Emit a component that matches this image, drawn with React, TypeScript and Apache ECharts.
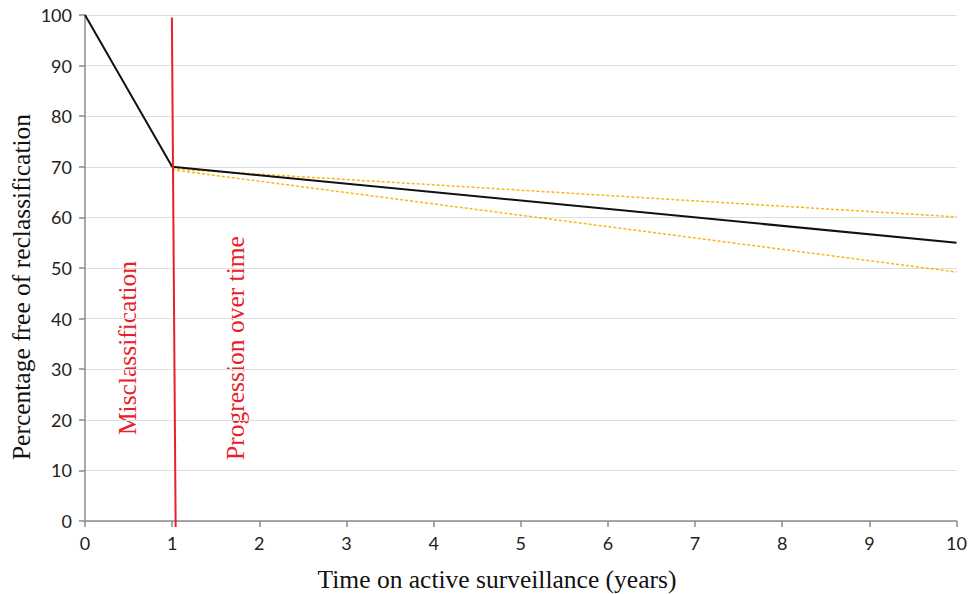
import React, { useEffect, useRef } from "react";
import * as echarts from "echarts";

// Years on active surveillance and the modelled percentages
const years = [0, 1, 10];
const freeOfReclassification = [100, 70, 55];
const upperBoundYears = [1, 10];
const upperBound = [69.6, 60.1];
const lowerBoundYears = [1, 10];
const lowerBound = [69.4, 49.2];
// Red boundary between misclassification and progression
const boundaryYears = [0.997, 1.04];
const boundaryValues = [99.5, -1.2];

const yTicks = [0, 10, 20, 30, 40, 50, 60, 70, 80, 90, 100];
const xTicks = [0, 1, 2, 3, 4, 5, 6, 7, 8, 9, 10];

const zip = (xs: number[], ys: number[]) => xs.map((x, i) => [x, ys[i]]);

export default function App() {
  const ref = useRef<HTMLDivElement>(null);

  useEffect(() => {
    if (!ref.current) return;
    const chart = echarts.init(ref.current, null, { renderer: "svg" });
    const serif = "'Liberation Serif', 'Times New Roman', serif";
    const sans = "Lato, 'Open Sans', sans-serif";
    const axisLine = { show: true, lineStyle: { color: "#8c8c8c", width: 1.5 } };
    const axisTick = { show: true, length: 6, lineStyle: { color: "#8c8c8c", width: 1.5 } };
    const axisLabel = { fontFamily: sans, fontSize: 18, color: "#222", margin: 13 };
    chart.setOption({
      animation: false,
      grid: { left: 85, right: 13, top: 15, bottom: 73 },
      xAxis: {
        type: "value",
        min: xTicks[0],
        max: xTicks[xTicks.length - 1],
        interval: 1,
        axisLine,
        axisTick,
        axisLabel,
        splitLine: { show: false },
      },
      yAxis: {
        type: "value",
        min: yTicks[0],
        max: yTicks[yTicks.length - 1],
        interval: 10,
        axisLine,
        axisTick,
        axisLabel,
        splitLine: { lineStyle: { color: "#dedede", width: 1 } },
      },
      series: [
        {
          type: "line",
          data: zip(upperBoundYears, upperBound),
          symbol: "none",
          lineStyle: { color: "#FDB515", width: 1.5, type: [3, 2] },
          z: 2,
        },
        {
          type: "line",
          data: zip(lowerBoundYears, lowerBound),
          symbol: "none",
          lineStyle: { color: "#FDB515", width: 1.5, type: [3, 2] },
          z: 2,
        },
        {
          type: "line",
          data: zip(years, freeOfReclassification),
          symbol: "none",
          lineStyle: { color: "#111", width: 2 },
          z: 3,
        },
        {
          type: "line",
          data: zip(boundaryYears, boundaryValues),
          symbol: "none",
          clip: false,
          lineStyle: { color: "#E8202A", width: 2 },
          z: 4,
        },
      ],
      graphic: [
        {
          type: "text",
          x: 497,
          y: 579,
          style: {
            text: "Time on active surveillance (years)",
            fill: "#111",
            font: `25.5px ${serif}`,
            align: "center",
            verticalAlign: "middle",
          },
        },
        {
          type: "text",
          x: 21,
          y: 287,
          rotation: Math.PI / 2,
          style: {
            text: "Percentage free of reclassification",
            fill: "#111",
            font: `25.5px ${serif}`,
            align: "center",
            verticalAlign: "middle",
          },
        },
        {
          type: "text",
          x: 127,
          y: 348,
          rotation: Math.PI / 2,
          style: {
            text: "Misclassification",
            fill: "#E8202A",
            font: `25.5px ${serif}`,
            align: "center",
            verticalAlign: "middle",
          },
        },
        {
          type: "text",
          x: 235,
          y: 348,
          rotation: Math.PI / 2,
          style: {
            text: "Progression over time",
            fill: "#E8202A",
            font: `25.5px ${serif}`,
            align: "center",
            verticalAlign: "middle",
          },
        },
      ],
    });
    return () => chart.dispose();
  }, []);

  return (
    <div
      ref={ref}
      style={{ position: "absolute", left: 0, top: 0, width: 970, height: 594 }}
    />
  );
}
